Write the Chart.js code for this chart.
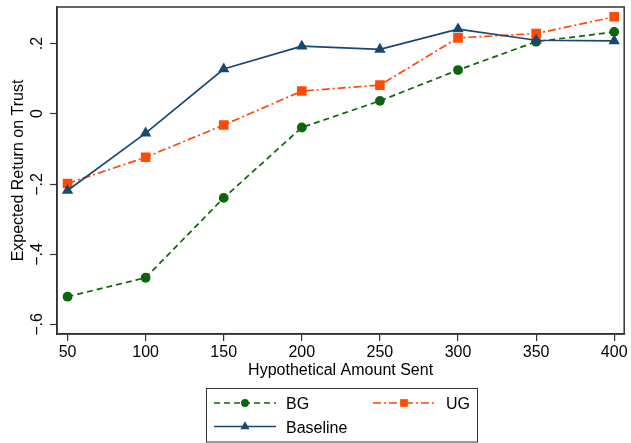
<!DOCTYPE html>
<html>
<head>
<meta charset="utf-8">
<script src="https://cdn.jsdelivr.net/npm/chart.js@4.4.1/dist/chart.umd.min.js"></script>
<style>
  html, body { margin: 0; padding: 0; background: #fff; }
  canvas { display: block; }
</style>
</head>
<body>
<canvas id="c" width="631" height="443"></canvas>
<script>
// ---- data ----
const amounts = [50, 100, 150, 200, 250, 300, 350, 400];
const bgValues = [-0.523, -0.469, -0.241, -0.040, 0.036, 0.124, 0.205, 0.233];
const ugValues = [-0.200, -0.125, -0.033, 0.064, 0.081, 0.216, 0.228, 0.276];
const baselineValues = [-0.220, -0.056, 0.127, 0.192, 0.183, 0.241, 0.209, 0.207];
const xTicks = [50, 100, 150, 200, 250, 300, 350, 400];
const yTicks = [-0.6, -0.4, -0.2, 0, 0.2];
const yTickLabels = ['\u2212.6', '\u2212.4', '\u2212.2', '0', '.2'];
const seriesNames = ['BG', 'UG', 'Baseline'];

const FONT = '"Liberation Sans", Arial, Helvetica, sans-serif';
const AXIS = '#333333';
const GREEN = '#0b650b';
const ORANGE = '#ff4a05';
const NAVY = '#1a476f';

const pts = vals => amounts.map((a, i) => ({ x: a, y: vals[i] }));

const styles = [
  { color: GREEN, dash: [6, 4], shape: 'circle', r: 4.9 },
  { color: ORANGE, dash: [8, 3, 2, 3], shape: 'rect', r: 6.8 },
  { color: NAVY, dash: [], shape: 'triangle', r: 6.6 }
];

function drawMarker(ctx, shape, x, y, r, color) {
  ctx.save();
  ctx.setLineDash([]);
  ctx.fillStyle = color;
  ctx.beginPath();
  if (shape === 'circle') {
    ctx.arc(x, y, r, 0, Math.PI * 2);
  } else if (shape === 'rect') {
    const s = Math.SQRT1_2 * r;
    ctx.rect(x - s, y - s, 2 * s, 2 * s);
  } else {
    const w = r * Math.sqrt(3) / 2;
    ctx.moveTo(x, y - r);
    ctx.lineTo(x + w, y + r / 2);
    ctx.lineTo(x - w, y + r / 2);
    ctx.closePath();
  }
  ctx.fill();
  ctx.restore();
}

const framePlugin = {
  id: 'frame',
  afterDraw(chart) {
    const ctx = chart.ctx;
    const a = chart.chartArea;
    const ys = chart.scales.y;
    ctx.save();
    // full frame
    ctx.strokeStyle = AXIS;
    ctx.lineWidth = 1.5;
    ctx.strokeRect(a.left, a.top, a.right - a.left, a.bottom - a.top);
    // y tick marks and rotated y tick labels
    ctx.fillStyle = '#000';
    ctx.font = '16px ' + FONT;
    ctx.textAlign = 'center';
    ctx.textBaseline = 'alphabetic';
    yTicks.forEach((v, i) => {
      const py = Math.round(ys.getPixelForValue(v)) + 0.5;
      ctx.save();
      ctx.strokeStyle = AXIS;
      ctx.lineWidth = 1.2;
      ctx.beginPath();
      ctx.moveTo(a.left - 7, py);
      ctx.lineTo(a.left, py);
      ctx.stroke();
      ctx.translate(42, py);
      ctx.rotate(-Math.PI / 2);
      ctx.fillText(yTickLabels[i], 0, 0);
      ctx.restore();
    });
    // legend
    ctx.strokeStyle = '#333';
    ctx.lineWidth = 1;
    ctx.strokeRect(206.5, 388.5, 271, 53.5);
    const items = [
      { x0: 214, x1: 276, y: 403, tx: 286 },
      { x0: 373, x1: 435, y: 403, tx: 446 },
      { x0: 214, x1: 276, y: 426.5, tx: 286 }
    ];
    items.forEach((it, i) => {
      const st = styles[i];
      ctx.save();
      ctx.strokeStyle = st.color;
      ctx.lineWidth = 1.6;
      ctx.setLineDash(st.dash);
      ctx.beginPath();
      ctx.moveTo(it.x0, it.y);
      ctx.lineTo(it.x1, it.y);
      ctx.stroke();
      ctx.restore();
      drawMarker(ctx, st.shape, (it.x0 + it.x1) / 2, it.y, st.r * 0.8, st.color);
      ctx.fillStyle = '#000';
      ctx.textAlign = 'left';
      ctx.textBaseline = 'alphabetic';
      ctx.fillText(seriesNames[i], it.tx, it.y + 6);
    });
    ctx.restore();
  }
};

const allVals = [bgValues, ugValues, baselineValues];
const datasets = allVals.map((vals, i) => ({
  label: seriesNames[i],
  data: pts(vals),
  borderColor: styles[i].color,
  backgroundColor: styles[i].color,
  borderWidth: 1.7,
  borderDash: styles[i].dash,
  pointStyle: styles[i].shape,
  pointRadius: styles[i].r,
  pointBorderWidth: 0,
  pointBackgroundColor: styles[i].color,
  tension: 0,
  fill: false,
  order: 3 - i
}));

new Chart(document.getElementById('c'), {
  type: 'line',
  data: { datasets },
  plugins: [framePlugin],
  options: {
    responsive: false,
    animation: false,
    devicePixelRatio: 1,
    layout: { padding: { left: 0, top: 7, right: 3, bottom: 63 } },
    plugins: { legend: { display: false }, tooltip: { enabled: false } },
    scales: {
      x: {
        type: 'linear',
        min: 43.26,
        max: 406.4,
        afterBuildTicks: s => { s.ticks = xTicks.map(v => ({ value: v })); },
        afterFit: s => { s.height = 46; s.paddingLeft = 0; s.paddingRight = 0; },
        grid: { drawOnChartArea: false, drawTicks: true, tickLength: 7, color: AXIS, lineWidth: 1.2 },
        border: { display: true, color: AXIS, width: 1.5 },
        ticks: {
          color: '#000', font: { family: FONT, size: 16 }, padding: 2,
          maxRotation: 0, autoSkip: false,
          callback: v => String(v)
        },
        title: {
          display: true, text: 'Hypothetical Amount Sent', color: '#000',
          font: { family: FONT, size: 16 }, padding: { top: 0, bottom: 0 }
        }
      },
      y: {
        type: 'linear',
        min: -0.6296,
        max: 0.304,
        afterBuildTicks: s => { s.ticks = yTicks.map(v => ({ value: v })); },
        afterFit: s => { s.width = 57; s.paddingTop = 0; s.paddingBottom = 0; },
        grid: { display: false },
        border: { display: true, color: AXIS, width: 1.5 },
        ticks: { display: false },
        title: {
          display: true, text: 'Expected Return on Trust', color: '#000',
          font: { family: FONT, size: 16 }, padding: { top: 9, bottom: 0 }
        }
      }
    }
  }
});
</script>
</body>
</html>
